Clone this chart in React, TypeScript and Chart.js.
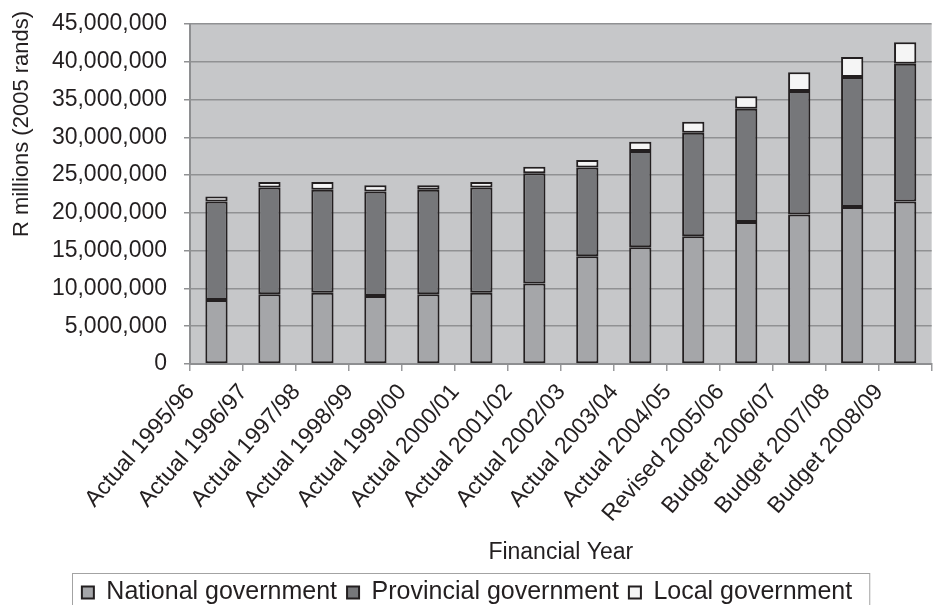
import React, { useEffect, useRef } from "react";
import { Chart, registerables } from "chart.js";

Chart.register(...registerables);

const categories = [
  "Actual 1995/96",
  "Actual 1996/97",
  "Actual 1997/98",
  "Actual 1998/99",
  "Actual 1999/00",
  "Actual 2000/01",
  "Actual 2001/02",
  "Actual 2002/03",
  "Actual 2003/04",
  "Actual 2004/05",
  "Revised 2005/06",
  "Budget 2006/07",
  "Budget 2007/08",
  "Budget 2008/09",
];

const national = [8470000, 9220000, 9440000, 9000000, 9220000, 9440000, 10670000, 14270000, 15450000, 16900000, 18800000, 19800000, 20780000, 21500000];
const provincial = [13030000, 14140000, 13620000, 13830000, 13840000, 13920000, 14580000, 11730000, 12750000, 13700000, 14970000, 16340000, 17220000, 18250000];
const local = [680000, 740000, 1040000, 840000, 610000, 740000, 850000, 1000000, 1200000, 1450000, 1670000, 2460000, 2620000, 2850000];

const seriesNames = ["National government", "Provincial government", "Local government"];
const yTitle = "R millions (2005 rands)";
const xTitle = "Financial Year";
const yMax = 45000000;
const yStep = 5000000;

const FONT = "'Liberation Sans', Arial, Helvetica, sans-serif";
const TEXT = "#231f20";

export default function App() {
  const ref = useRef<HTMLCanvasElement | null>(null);

  useEffect(() => {
    document.body.style.margin = "0";
    const canvas = ref.current;
    if (!canvas) return;

    const bgPlugin = {
      id: "plotBg",
      beforeDraw(chart: any) {
        const { ctx, chartArea } = chart;
        ctx.save();
        ctx.fillStyle = "#c6c7c9";
        ctx.fillRect(chartArea.left, chartArea.top, chartArea.right - chartArea.left, chartArea.bottom - chartArea.top);
        ctx.restore();
      },
      afterDraw(chart: any) {
        const { ctx } = chart;
        // y-axis title
        ctx.save();
        ctx.fillStyle = TEXT;
        ctx.font = `22px ${FONT}`;
        ctx.textAlign = "center";
        ctx.textBaseline = "middle";
        ctx.translate(22, 124);
        ctx.rotate(-Math.PI / 2);
        ctx.fillText(yTitle, 0, 0);
        ctx.restore();
        // legend frame
        const lg = chart.legend;
        if (lg && lg.legendHitBoxes && lg.legendHitBoxes.length) {
          const boxes = lg.legendHitBoxes;
          let minL = Infinity;
          let maxR = -Infinity;
          boxes.forEach((b: any) => {
            minL = Math.min(minL, b.left);
            maxR = Math.max(maxR, b.left + b.width);
          });
          ctx.save();
          ctx.strokeStyle = "#a3a3a3";
          ctx.lineWidth = 1;
          ctx.strokeRect(Math.round(minL - 10) + 0.5, Math.round(lg.top + 3) + 0.5, maxR - minL + 27, 60);
          ctx.restore();
        }
      },
    };

    const chart = new Chart(canvas, {
      type: "bar",
      data: {
        labels: categories,
        datasets: [
          {
            label: seriesNames[0],
            data: national,
            backgroundColor: "#a5a6a9",
            borderColor: TEXT,
            borderWidth: 2,
            borderSkipped: false,
          },
          {
            label: seriesNames[1],
            data: provincial,
            backgroundColor: "#76777a",
            borderColor: TEXT,
            borderWidth: 2,
            borderSkipped: false,
          },
          {
            label: seriesNames[2],
            data: local,
            backgroundColor: "#f5f5f5",
            borderColor: TEXT,
            borderWidth: 2,
            borderSkipped: false,
          },
        ],
      },
      options: {
        responsive: false,
        animation: false,
        layout: { padding: { top: 24, right: 0, left: 0, bottom: -10 } },
        datasets: {
          bar: { categoryPercentage: 1, barPercentage: 0.42 },
        },
        plugins: {
          legend: {
            position: "bottom",
            labels: {
              font: { family: FONT, size: 25 },
              color: TEXT,
              boxWidth: 12,
              boxHeight: 12,
              padding: 10,
            },
          },
          tooltip: { enabled: false },
          title: { display: false },
        },
        scales: {
          x: {
            stacked: true,
            afterFit: (axis: any) => {
              axis.height = 206;
            },
            grid: {
              display: true,
              drawOnChartArea: false,
              drawTicks: true,
              tickLength: 7,
              color: "#999a9c",
              lineWidth: 1.5,
              offset: true,
            },
            border: { display: true, color: "#8e8f91", width: 2 },
            ticks: {
              autoSkip: false,
              minRotation: 49,
              maxRotation: 49,
              labelOffset: -26,
              padding: 8,
              color: TEXT,
              font: { family: FONT, size: 23 },
            },
            title: {
              display: true,
              text: xTitle,
              color: TEXT,
              font: { family: FONT, size: 23 },
              padding: { top: 0, bottom: 4 },
            },
          },
          y: {
            stacked: true,
            min: 0,
            max: yMax,
            afterFit: (axis: any) => {
              axis.width = 190;
              axis.paddingTop = 0;
              axis.paddingBottom = 0;
            },
            grid: {
              color: "#909193",
              lineWidth: 1.5,
              drawTicks: true,
              tickLength: 6,
            },
            border: { display: true, color: "#8e8f91", width: 2 },
            ticks: {
              stepSize: yStep,
              padding: 17,
              color: TEXT,
              font: { family: FONT, size: 23 },
              callback: (v: any) => Number(v).toLocaleString("en-US"),
            },
          },
        },
      },
      plugins: [bgPlugin],
    });

    return () => chart.destroy();
  }, []);

  return (
    <div style={{ width: 934, height: 605, position: "relative", background: "#fff" }}>
      <canvas ref={ref} width={934} height={605} />
    </div>
  );
}
